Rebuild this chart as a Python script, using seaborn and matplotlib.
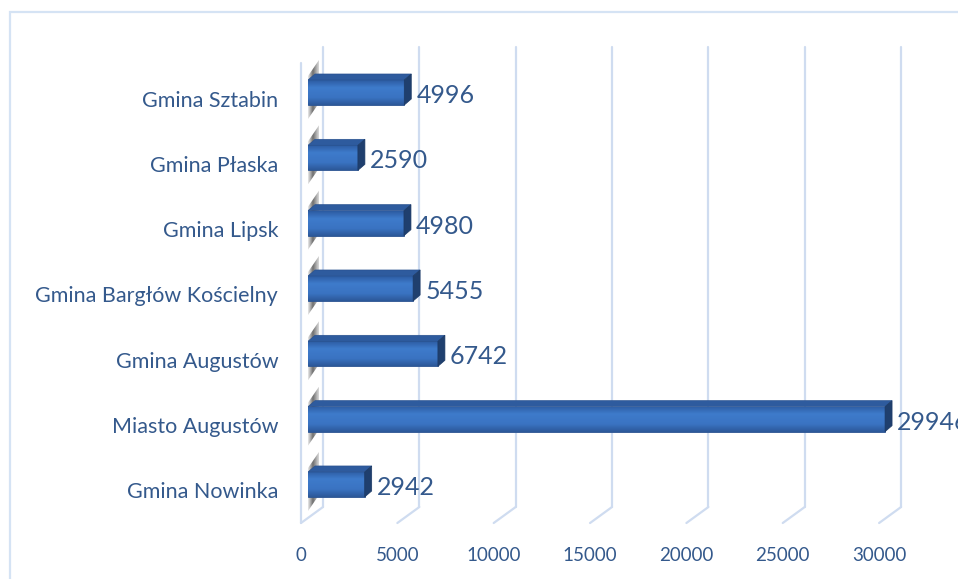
import numpy as np
import pandas as pd
import matplotlib
matplotlib.use("Agg")
import matplotlib.pyplot as plt
import matplotlib.transforms as mtransforms
from matplotlib.patches import Polygon, Rectangle
from matplotlib.colors import LinearSegmentedColormap
import seaborn as sns

# dane
categories = ["Gmina Sztabin", "Gmina Płaska", "Gmina Lipsk", "Gmina Bargłów Kościelny",
              "Gmina Augustów", "Miasto Augustów", "Gmina Nowinka"]
values = [4996, 2590, 4980, 5455, 6742, 29946, 2942]
xticks = [0, 5000, 10000, 15000, 20000, 25000, 30000]

df = pd.DataFrame({"gmina": categories, "liczba": values})

sns.set_theme(style="white")
plt.rcParams["font.family"] = ["Lato", "DejaVu Sans"]

TXT = "#34598C"
GRID = "#CFDCF0"

DPI = 100
W, H = 958, 579
fig = plt.figure(figsize=(W / DPI, H / DPI), dpi=DPI)

# skala w pikselach (przednia sciana slupkow)
X0, XMAX = 308, 32000
xs = 0.01927          # px na jednostke
ys = 65.33            # px na kategorie
Y0 = 92.5             # srodek pierwszej kategorii (px)
top_px, bot_px = 40, 530
ax = fig.add_axes([X0 / W, 1 - bot_px / H, XMAX * xs / W, (bot_px - top_px) / H])


def xd(dpx):
    return dpx / xs


def yd(py):
    return (py - Y0) / ys


sns.barplot(data=df, x="liczba", y="gmina", orient="h", width=25 / ys,
            color="#3A72BF", ax=ax, zorder=3)
ax.set_xlim(0, XMAX)
ax.set_ylim(yd(bot_px), yd(top_px))

# efekt 3D
BX, BY = 15, -11     # tylna sciana
FX, FY = -7, 5       # przednia krawedz
DX, DY = 7, -6       # glebokosc slupka

for v in xticks:
    ax.plot([v + xd(BX), v + xd(BX)], [yd(47), yd(507)], color=GRID, lw=1.6,
            clip_on=False, zorder=0)
    ax.plot([v + xd(BX), v + xd(FX)], [yd(507), yd(523)], color=GRID, lw=1.6,
            clip_on=False, zorder=0)
ax.plot([xd(FX), xd(FX)], [yd(63), yd(523)], color=GRID, lw=1.6, clip_on=False, zorder=0)

front_cmap = LinearSegmentedColormap.from_list(
    "front", [(0, "#2D5CA3"), (0.3, "#3E7BCB"), (0.7, "#3A73C2"), (1, "#2C5899")])
shadow_cmap = LinearSegmentedColormap.from_list(
    "shadow", [(0, "#E8E8E8"), (0.45, "#6E6E6E"), (1, "#D8D8D8")])
grad = np.linspace(0, 1, 64).reshape(-1, 1)
grad_x = np.linspace(0, 1, 32).reshape(1, -1)

for p in list(ax.patches):
    x, y = p.get_x(), p.get_y()
    w, h = p.get_width(), p.get_height()
    t, b = y, y + h
    dx, dy = xd(DX), DY / ys
    # cien na lewej scianie
    sh = Polygon([(xd(0), b + 14 / ys), (xd(0), t - 4 / ys), (xd(11), t - 20 / ys),
                  (xd(11), b - 2 / ys)], closed=True, facecolor="none", lw=0, zorder=1)
    ax.add_patch(sh)
    shim = ax.imshow(grad_x, cmap=shadow_cmap, aspect="auto",
                     extent=(xd(0), xd(11), b + 14 / ys, t - 20 / ys),
                     zorder=1, interpolation="bilinear")
    shim.set_clip_path(sh)
    # gradient na przedniej scianie
    im = ax.imshow(grad, cmap=front_cmap, aspect="auto", extent=(x, x + w, b, t),
                   zorder=3.5, interpolation="bilinear")
    im.set_clip_path(p)
    p.set_edgecolor("#2A5290")
    p.set_linewidth(0.6)
    # gorna sciana
    ax.add_patch(Polygon([(x, t), (x + w, t), (x + w + dx, t + dy), (x + dx, t + dy)],
                         closed=True, facecolor="#2E5B9E", edgecolor="#2A5290",
                         lw=0.5, zorder=4))
    # boczna sciana
    side = Polygon([(x + w, t), (x + w + dx, t + dy), (x + w + dx, b + dy), (x + w, b)],
                   closed=True, facecolor="#1F3F6E", edgecolor="#1C3A66", lw=0.5, zorder=4)
    ax.add_patch(side)
    # etykieta wartosci
    ax.text(x + w + xd(12), (t + b) / 2 + 3 / ys, f"{int(round(w))}", ha="left",
            va="center", fontsize=18, color=TXT, zorder=5, clip_on=False)

ax.set_xlim(0, XMAX)
ax.set_ylim(yd(bot_px), yd(top_px))
ax.set_xticks(xticks)
ax.set_xticklabels([str(v) for v in xticks])
ax.set_xlabel("")
ax.set_ylabel("")
ax.tick_params(axis="x", length=0, pad=12, labelsize=13.5, labelcolor=TXT)
ax.tick_params(axis="y", length=0, pad=21.5, labelsize=15.5, labelcolor=TXT)
for lbl in ax.get_xticklabels():
    lbl.set_transform(lbl.get_transform() +
                      mtransforms.ScaledTranslation(FX / DPI, 0, fig.dpi_scale_trans))
for lbl in ax.get_yticklabels():
    lbl.set_transform(lbl.get_transform() +
                      mtransforms.ScaledTranslation(0, -6 / DPI, fig.dpi_scale_trans))
sns.despine(ax=ax, left=True, bottom=True)
ax.patch.set_alpha(0)

# ramka
fig.patches.append(Rectangle((10 / W, -0.1), 2, 1.1 - 12 / H, transform=fig.transFigure,
                             fill=False, edgecolor="#D5E3F4", lw=1.6))

fig.savefig("out.png", dpi=DPI)
